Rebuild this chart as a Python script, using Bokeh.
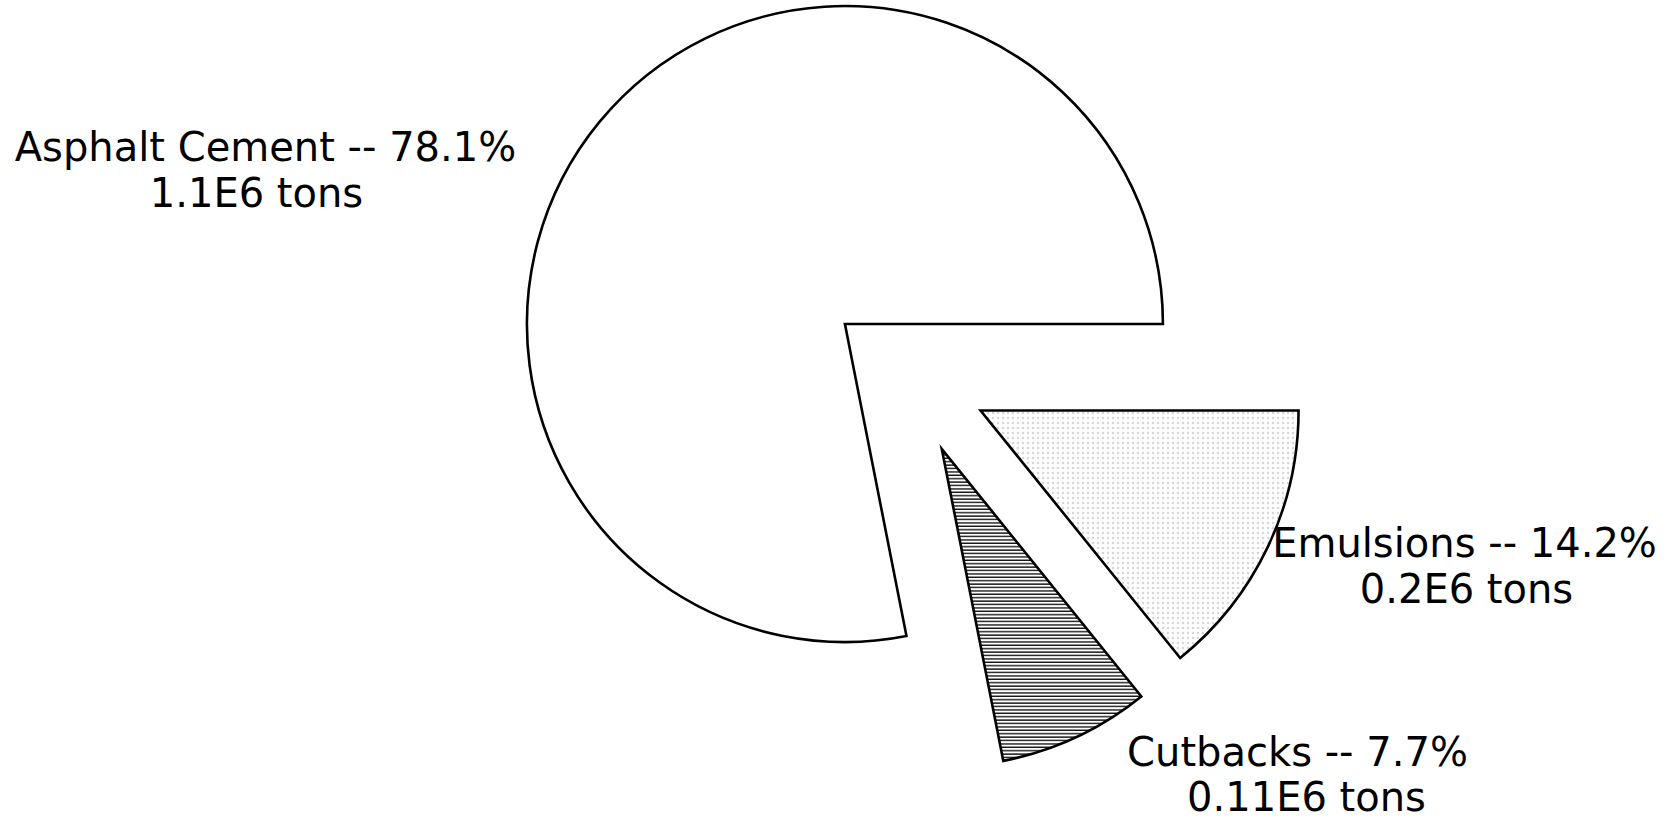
import math
from bokeh.plotting import figure
from bokeh.models import Range1d
from bokeh.core.properties import value
from bokeh.embed import file_html
from bokeh.resources import INLINE

# ---- data ----
categories = ["Emulsions", "Cutbacks", "Asphalt Cement"]
percents = [14.2, 7.7, 78.1]
tons = ["0.2E6", "0.11E6", "1.1E6"]

# ---- styles / layout ----
hatch_patterns = ["dot", "horizontal_line", None]
hatch_colors = ["#8a8a8a", "black", "black"]
hatch_alphas = [0.35, 1.0, 0.0]
hatch_scales = [5.0, 3.4, 1.0]
hatch_weights = [0.8, 1.3, 1.0]

W, H = 1658, 820
CX, CY = 907, 445      # pie centre (data units == pixels)
RADIUS = 318
EXPLODE = 81

# label centres (x) and anchor (y) for the two lines of each label, in data units
label_line1 = [(1464, 278), (1297, 69), (265, 674)]
label_line2 = [(1466, 232), (1306, 24), (256, 628)]

p = figure(width=W, height=H, output_backend="svg", toolbar_location=None,
           x_axis_type=None, y_axis_type=None, min_border=0,
           x_range=Range1d(0, W), y_range=Range1d(0, H))
p.outline_line_color = None
p.xgrid.visible = False
p.ygrid.visible = False
p.background_fill_color = "white"
p.border_fill_color = "white"

end = 0.0
for i, cat in enumerate(categories):
    span = percents[i] * 3.6
    start = end - span
    mid = math.radians((start + end) / 2.0)
    x = CX + EXPLODE * math.cos(mid)
    y = CY + EXPLODE * math.sin(mid)
    kw = dict(x=[x], y=[y], radius=RADIUS, radius_units="data",
              start_angle=[math.radians(start)], end_angle=[math.radians(end)],
              direction="anticlock", fill_color="white",
              line_color="black", line_width=2.6, line_join="miter")
    if hatch_patterns[i] is not None:
        kw.update(hatch_pattern=hatch_patterns[i], hatch_color=hatch_colors[i],
                  hatch_alpha=hatch_alphas[i], hatch_scale=hatch_scales[i],
                  hatch_weight=hatch_weights[i])
    p.wedge(**kw)
    end = start

t1 = [f"{c} -- {v}%" for c, v in zip(categories, percents)]
t2 = [f"{t} tons" for t in tons]
p.text(x=[a for a, b in label_line1], y=[b for a, b in label_line1], text=t1,
       text_font=value("DejaVu Sans"), text_font_size="40px",
       text_align="center", text_baseline="alphabetic", text_color="black")
p.text(x=[a for a, b in label_line2], y=[b for a, b in label_line2], text=t2,
       text_font=value("DejaVu Sans"), text_font_size="40px",
       text_align="center", text_baseline="alphabetic", text_color="black")

open("out.html", "w").write(file_html(p, INLINE))
